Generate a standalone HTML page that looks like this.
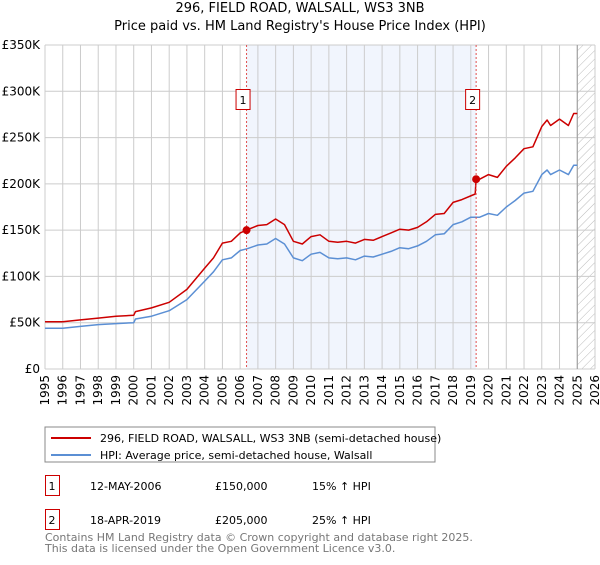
<!DOCTYPE html>
<html><head><meta charset="utf-8"><style>
body{margin:0;background:#fff;font-family:"Liberation Sans","DejaVu Sans",sans-serif;}
svg text{font-family:"DejaVu Sans","Liberation Sans",sans-serif;}
</style></head><body>
<svg id="c" width="600" height="560" xmlns="http://www.w3.org/2000/svg">
<defs><pattern id="hatch" width="6" height="6" patternUnits="userSpaceOnUse" patternTransform="rotate(45)"><line x1="0" y1="0" x2="0" y2="6" stroke="#bbb" stroke-width="1"/></pattern></defs>
<text x="300" y="12" text-anchor="middle" font-size="13" fill="#000">296, FIELD ROAD, WALSALL, WS3 3NB</text>
<text x="300" y="30" text-anchor="middle" font-size="13" fill="#000">Price paid vs. HM Land Registry's House Price Index (HPI)</text>
<g id="plot"></g>
<rect x="45" y="427" width="390" height="35" fill="#fff" stroke="#888"/>
<line x1="51" y1="438" x2="91" y2="438" stroke="#cc0000" stroke-width="2"/>
<text x="100" y="442" font-size="11">296, FIELD ROAD, WALSALL, WS3 3NB (semi-detached house)</text>
<line x1="51" y1="455" x2="91" y2="455" stroke="#5b8fd4" stroke-width="2"/>
<text x="100" y="459" font-size="11">HPI: Average price, semi-detached house, Walsall</text>
<g>
<rect x="45.5" y="475.5" width="14" height="20" fill="none" stroke="#cc0000"/>
<text x="52" y="490" text-anchor="middle" font-size="11">1</text>
<text x="90" y="490" font-size="11">12-MAY-2006</text>
<text x="215" y="490" font-size="11">£150,000</text>
<text x="312" y="490" font-size="11">15% ↑ HPI</text></g>
<g>
<rect x="45.5" y="509.5" width="14" height="20" fill="none" stroke="#cc0000"/>
<text x="52" y="524" text-anchor="middle" font-size="11">2</text>
<text x="90" y="524" font-size="11">18-APR-2019</text>
<text x="215" y="524" font-size="11">£205,000</text>
<text x="312" y="524" font-size="11">25% ↑ HPI</text></g>
<text x="45" y="541" font-size="11" fill="#777">Contains HM Land Registry data © Crown copyright and database right 2025.</text>
<text x="45" y="552" font-size="11" fill="#777">This data is licensed under the Open Government Licence v3.0.</text>
</svg>
<script>
const hpiYears=[1995,1996,1997,1998,1999,2000,2000.1,2001,2002,2003,2004,2004.5,2005,2005.5,2006,2006.4,2007,2007.5,2008,2008.5,2009,2009.5,2010,2010.5,2011,2011.5,2012,2012.5,2013,2013.5,2014,2014.5,2015,2015.5,2016,2016.5,2017,2017.5,2018,2018.5,2019,2019.5,2020,2020.5,2021,2021.5,2022,2022.5,2023,2023.3,2023.5,2024,2024.5,2024.8,2025];
const hpiValues=[44,44,46,48,49,50,54,57,63,75,95,105,118,120,128,130,134,135,141,135,120,117,124,126,120,119,120,118,122,121,124,127,131,130,133,138,145,146,156,159,164,164,168,166,175,182,190,192,210,215,210,215,210,220,220];
const priceYears=[1995,1996,1997,1998,1999,2000,2000.1,2001,2002,2003,2004,2004.5,2005,2005.5,2006,2006.36,2007,2007.5,2008,2008.5,2009,2009.5,2010,2010.5,2011,2011.5,2012,2012.5,2013,2013.5,2014,2014.5,2015,2015.5,2016,2016.5,2017,2017.5,2018,2018.5,2019.25,2019.3,2019.5,2020,2020.5,2021,2021.5,2022,2022.5,2023,2023.3,2023.5,2024,2024.5,2024.8,2025];
const priceValues=[51,51,53,55,57,58,62,66,72,86,109,120,136,138,147,150,155,156,162,156,138,135,143,145,138,137,138,136,140,139,143,147,151,150,153,159,167,168,180,183,189,205,205,210,207,219,228,238,240,262,269,263,270,263,276,276];
const saleYears=[2006.36,2019.3];
const saleValues=[150,205];
const saleLabels=["1","2"];
const yTicks=[0,50,100,150,200,250,300,350];
const yTickLabels=["£0","£50K","£100K","£150K","£200K","£250K","£300K","£350K"];
const xTicks=[];for(let y=1995;y<=2026;y++)xTicks.push(y);

const X0=45,X1=595,Y0=369,Y1=45;
const xs=y=>X0+(y-1995)*(X1-X0)/31;
const ys=v=>Y0-v*(Y0-Y1)/350;
const NS="http://www.w3.org/2000/svg";
const g=document.getElementById('plot');
function mk(t,a,p){const e=document.createElementNS(NS,t);for(const k in a)e.setAttribute(k,a[k]);(p||g).appendChild(e);return e;}
// shaded region
let sh=mk('rect',{x:xs(saleYears[0]),y:Y1,width:xs(saleYears[1])-xs(saleYears[0]),height:Y0-Y1,fill:'#eef3fc',opacity:0.8});


// hatch future
let ht=mk('rect',{x:xs(2025),y:Y1,width:X1-xs(2025),height:Y0-Y1,fill:'url(#hatch)'});


xTicks.forEach(y=>{
 let l=mk('line',{x1:xs(y),x2:xs(y),y1:Y1,y2:Y0,stroke:'#ccc','stroke-width':1});
 
 
 let t=mk('text',{x:0,y:0,'font-size':12,'text-anchor':'end',transform:`translate(${xs(y)+4},${Y0+6}) rotate(-90)`});
 t.textContent=y;
 
 
});
yTicks.forEach((v,i)=>{
 let l=mk('line',{x1:X0,x2:X1,y1:ys(v),y2:ys(v),stroke:'#ccc','stroke-width':1});
 
 
 let t=mk('text',{x:X0-5,y:ys(v)+4,'font-size':12,'text-anchor':'end'});
 t.textContent=yTickLabels[i];
 
 
});
let ed=mk('line',{x1:xs(2025),x2:xs(2025),y1:Y1,y2:Y0,stroke:'#999','stroke-width':1});


function poly(xv,yv,col,name){
 const p=mk('polyline',{points:xv.map((x,i)=>xs(x).toFixed(1)+','+ys(yv[i]).toFixed(1)).join(' '),fill:'none',stroke:col,'stroke-width':1.5,'stroke-linejoin':'round'});
 
 
}
poly(hpiYears,hpiValues,'#5b8fd4','hpi-line');
poly(priceYears,priceValues,'#cc0000','price-paid-line');
saleYears.forEach((y,i)=>{
 let vl=mk('line',{x1:xs(y),x2:xs(y),y1:Y1,y2:Y0,stroke:'#e05050','stroke-width':1,'stroke-dasharray':'2,2'});
 
 
 let c=mk('circle',{cx:xs(y),cy:ys(saleValues[i]),r:4,fill:'#cc0000'});
 
 
 let b=mk('rect',{x:xs(y)-10.5,y:89.5,width:14,height:20,fill:'#fff',stroke:'#cc0000'});
 
 
 let t=mk('text',{x:xs(y)-3.5,y:104,'font-size':11,'text-anchor':'middle'});
 t.textContent=saleLabels[i];
 
 
});
</script>
</body></html>
